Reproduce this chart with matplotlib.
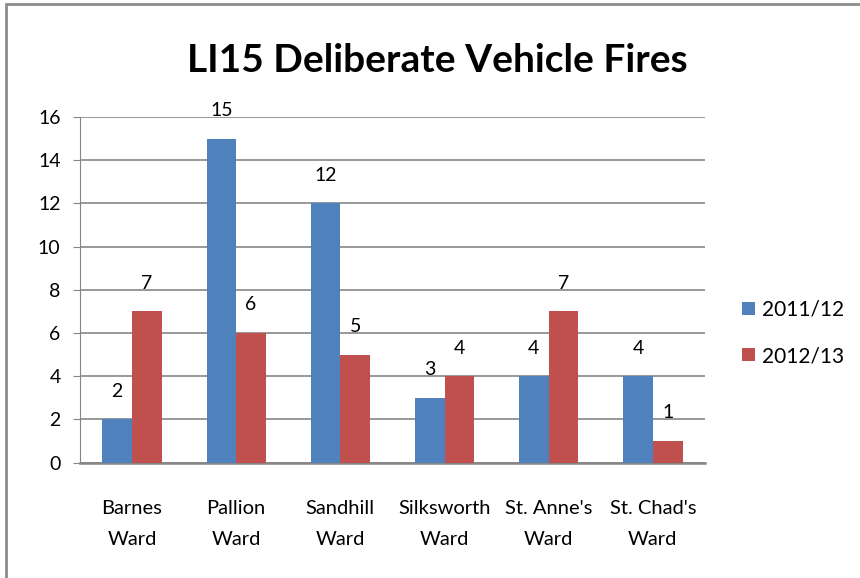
import matplotlib
matplotlib.use("Agg")
import matplotlib.pyplot as plt
import matplotlib.patches as patches
import numpy as np

plt.rcParams['font.family'] = ['Lato', 'DejaVu Sans']

# data
wards = ["Barnes\nWard", "Pallion\nWard", "Sandhill\nWard", "Silksworth\nWard",
         "St. Anne's\nWard", "St. Chad's\nWard"]
fires_2011 = [2, 15, 12, 3, 4, 4]
fires_2012 = [7, 6, 5, 4, 7, 1]
series_names = ["2011/12", "2012/13"]

blue = "#4F81BD"
red = "#C0504D"
grid_col = "#868686"

fig = plt.figure(figsize=(8.6, 5.78), dpi=100)
ax = fig.add_axes([0.093, 0.1998, 0.7267, 0.5978])

# outer chart border (cut off at right/bottom like the screenshot)
fig.patches.append(patches.Rectangle((6 / 860, -0.1), 1.2, (578 - 4) / 578 + 0.1,
                                     transform=fig.transFigure, fill=False,
                                     edgecolor="#8c8c8c", linewidth=2))

x = np.arange(len(wards))
w = 0.285
b1 = ax.bar(x - w / 2, fires_2011, w, color=blue, label=series_names[0], zorder=3)
b2 = ax.bar(x + w / 2, fires_2012, w, color=red, label=series_names[1], zorder=3)

for bars in (b1, b2):
    for r in bars:
        ax.text(r.get_x() + r.get_width() / 2, r.get_height() + 1.3, str(int(r.get_height())),
                ha="center", va="center", fontsize=14)

ax.set_xlim(-0.5, len(wards) - 0.5)
ax.set_ylim(0, 16)
ax.set_yticks(range(0, 17, 2))
ax.yaxis.grid(True, color=grid_col, linewidth=1.2, zorder=0)
ax.set_axisbelow(True)

ax.set_xticks(x)
ax.set_xticklabels(wards, fontsize=14.5, linespacing=1.98)
ax.tick_params(axis="x", length=0, pad=27)
ax.tick_params(axis="y", labelsize=14, length=5, color=grid_col, pad=9)

ax.spines["top"].set_visible(False)
ax.spines["right"].set_visible(False)
ax.spines["left"].set_color(grid_col)
ax.spines["bottom"].set_color(grid_col)
ax.spines["bottom"].set_linewidth(1.8)

fig.text(0.508, 0.895, "LI15 Deliberate Vehicle Fires", ha="center", va="center",
         fontsize=28, fontweight="bold")

ax.legend(loc="center left", bbox_to_anchor=(1.03, 0.375), frameon=False,
          fontsize=15, handlelength=0.6, handleheight=0.6, handletextpad=0.35,
          labelspacing=1.26)

fig.savefig("out.png", dpi=100)
